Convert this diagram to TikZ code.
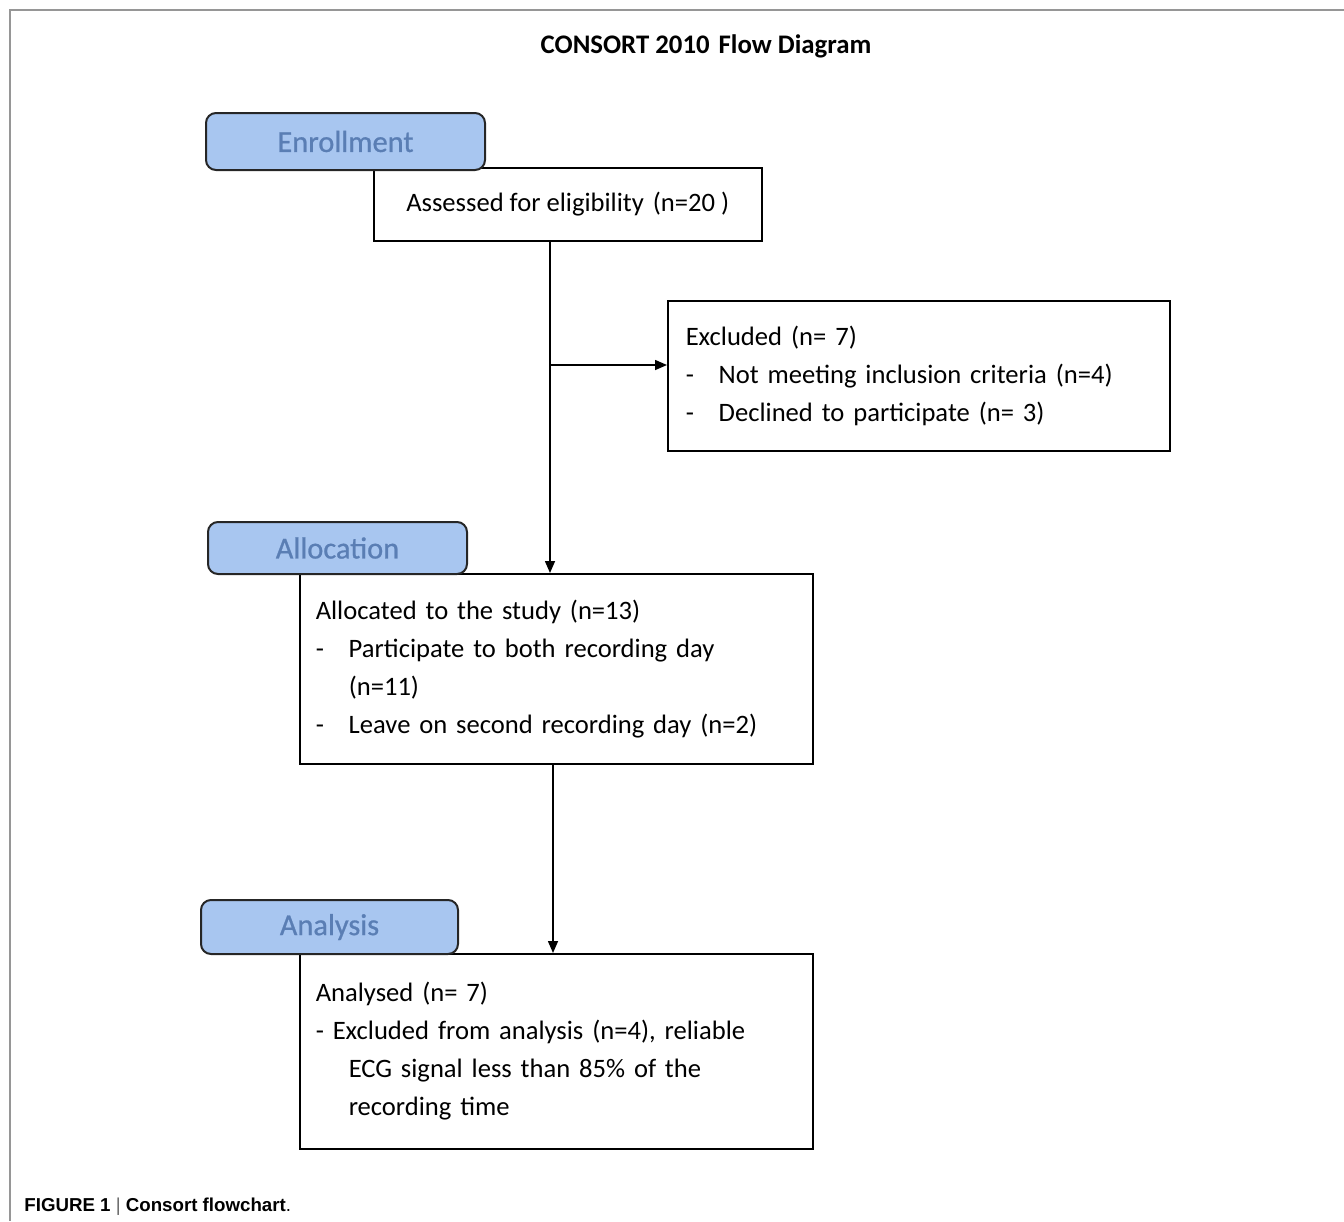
\documentclass[tikz,border=0pt]{standalone}
\usepackage{fontspec}
\setmainfont{Carlito}
\newfontfamily\capfont{Liberation Sans}
\newfontfamily\stagefont[FakeBold=0.8]{Carlito}
\usetikzlibrary{arrows.meta}

\definecolor{stagefill}{RGB}{168,198,240}
\definecolor{stagetext}{RGB}{90,126,180}
\definecolor{framegray}{RGB}{150,150,150}

\newcommand{\itm}[1]{\makebox[16.5pt][l]{-}#1}
\newcommand{\cont}[1]{\hspace*{16.5pt}#1}
\newcommand{\gap}{\hspace{4.5pt}}

\tikzset{
	flowbox/.style = {rectangle, draw, line width=0.75pt, fill=white, anchor=north west,
		inner xsep=8pt, align=left, font=\fontsize{13.3}{19}\selectfont},
	stage/.style = {rectangle, rounded corners=5pt, draw=black!85, line width=1pt,
		fill=stagefill, text=stagetext, anchor=north west, inner sep=0pt,
		font=\stagefont\fontsize{15.2}{17}\selectfont},
	arr/.style = {line width=0.75pt, -{Triangle[length=6pt,width=5pt]}}
}

\begin{document}
\begin{tikzpicture}[x=0.5pt, y=-0.5pt]
		\useasboundingbox (0,0) rectangle (1344,1221);
		% frame
		\draw[framegray, line width=0.6pt] (1344,10) -- (10,10) -- (10,1221);
		\node at (706,46) (title) {\fontsize{13.4}{16}\selectfont\bfseries CONSORT 2010\gap Flow Diagram};
		% boxes
		\node at (373,167) [flowbox, align=center, minimum width=194pt, minimum height=36.5pt] (assessed)
			{Assessed for eligibility\gap(n=20 )};
		\node at (667,300) [flowbox, text width=233pt, minimum height=75pt, inner xsep=9pt] (excluded)
			{Excluded\gap(n= 7)\\
			 \itm{Not meeting inclusion criteria\gap(n=4)}\\
			 \itm{Declined to participate\gap(n= 3)}};
		\node at (299,573) [flowbox, text width=240.5pt, minimum height=95pt] (allocated)
			{Allocated to the study (n=13)\\
			 \itm{Participate to both recording day}\\
			 \cont{(n=11)}\\
			 \itm{Leave on second recording day (n=2)}};
		\node at (299,953) [flowbox, text width=240.5pt, minimum height=97.5pt] (analysed)
			{Analysed\gap(n= 7)\\
			 - Excluded from analysis\gap(n=4), reliable\\
			 \cont{ECG signal less than 85\% of the}\\
			 \cont{recording time}};
		% stage labels
		\node at (205,112) [stage, minimum width=139.5pt, minimum height=28.5pt] (enrol) {Enrollment};
		\node at (207,521) [stage, minimum width=129.5pt, minimum height=26pt] (alloc) {Allocation};
		\node at (200,899) [stage, minimum width=128.5pt, minimum height=27pt] (analys) {Analysis};
		% connectors
		\coordinate (split) at (550,365);
		\draw[line width=0.75pt] (assessed.south -| split) -- (split);
		\draw[arr] (split) -- (allocated.north -| split);
		\draw[arr] (split) -- (split -| excluded.west);
		\coordinate (split2) at (553,850);
		\draw[arr] (allocated.south -| split2) -- (analysed.north -| split2);
		% caption
		\node at (24,1207) [anchor=west, inner sep=0pt] (caption)
			{\capfont\fontsize{9.35}{11}\selectfont\textbf{FIGURE 1} {\color{black!60}|} \textbf{Consort flowchart}.};
\end{tikzpicture}
\end{document}
